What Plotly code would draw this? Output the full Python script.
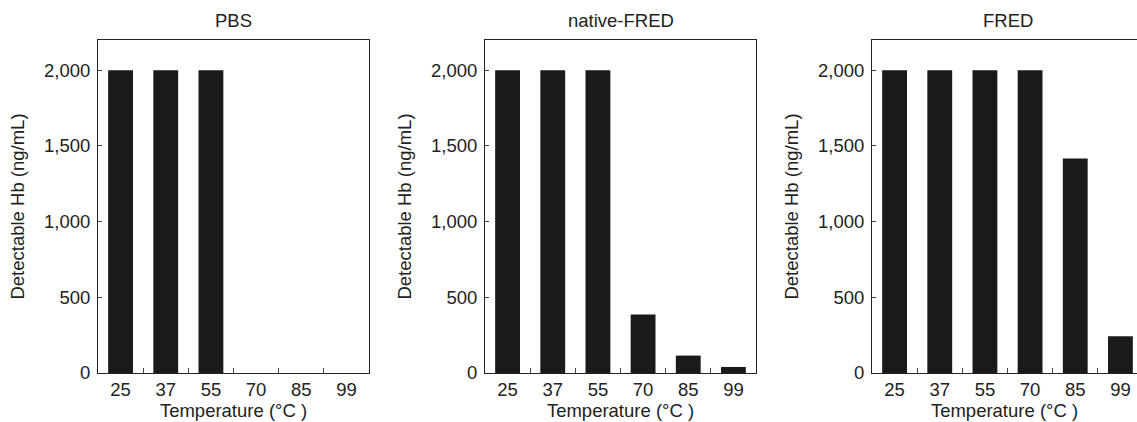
import plotly.graph_objects as go

temperatures = ["25", "37", "55", "70", "85", "99"]
panel_titles = ["PBS", "native-FRED", "FRED"]
pbs_values = [2000, 2000, 2000, 0, 0, 0]
native_fred_values = [2000, 2000, 2000, 386, 115, 40]
fred_values = [2000, 2000, 2000, 2000, 1417, 242]
y_ticks = [0, 500, 1000, 1500, 2000]
y_label = "Detectable Hb (ng/mL)"
x_label = "Temperature (°C )"

W, H = 1137, 422
MT = 40
MB = H - 373
plot_h = H - MT - MB

panels = [
    (pbs_values, 98, 369, 5.5, True),
    (native_fred_values, 485, 756, 5.5, True),
    (fred_values, 872, 1137, 5.367, False),
]

FONT = "Liberation Sans, Arial, sans-serif"
FS = 18.5
TXT = "#222222"
BAR = "#1a1a1a"

fig = go.Figure()
annotations = []
for i, (vals, x0, x1, xmax, mirror_y) in enumerate(panels):
    xa = "x" if i == 0 else f"x{i+1}"
    ya = "y" if i == 0 else f"y{i+1}"
    fig.add_trace(go.Bar(
        x=temperatures, y=vals, xaxis=xa, yaxis=ya,
        width=0.55,
        marker=dict(color=BAR, line=dict(width=0)),
        showlegend=False,
    ))
    xkey = "xaxis" if i == 0 else f"xaxis{i+1}"
    ykey = "yaxis" if i == 0 else f"yaxis{i+1}"
    fig.update_layout({
        xkey: dict(
            domain=[x0 / W, min(x1 / W, 1)], anchor=ya,
            type="category", range=[-0.5, xmax],
            showline=True, linecolor="#222", linewidth=1, mirror=True,
            ticks="inside", ticklen=5, tickwidth=1, tickcolor="#444",
            tickson="boundaries",
            showgrid=False, zeroline=False,
            tickfont=dict(family=FONT, size=FS, color=TXT),
            title=dict(text=x_label, font=dict(family=FONT, size=FS, color=TXT), standoff=2),
        ),
        ykey: dict(
            domain=[0, 1], anchor=xa,
            range=[0, 2200],
            tickmode="array", tickvals=y_ticks,
            tickformat=",d",
            showline=True, linecolor="#222", linewidth=1, mirror=mirror_y,
            ticks="inside", ticklen=4, tickwidth=1, tickcolor="#444",
            ticklabelstandoff=3,
            showgrid=False, zeroline=False,
            tickfont=dict(family=FONT, size=FS, color=TXT),
            title=dict(text=y_label, font=dict(family=FONT, size=FS, color=TXT), standoff=14),
        ),
    })
    cx = (x0 + 271 / 2) / W
    annotations.append(dict(
        text=panel_titles[i], xref="paper", yref="paper",
        x=cx, y=(H - MB - 20) / plot_h, xanchor="center", yanchor="middle",
        showarrow=False, font=dict(family=FONT, size=FS, color=TXT),
    ))

fig.update_layout(
    width=W, height=H,
    margin=dict(l=0, r=0, t=MT, b=MB, autoexpand=False),
    paper_bgcolor="white", plot_bgcolor="white",
    annotations=annotations,
)

fig.write_html(
    "out.html",
    config={"displayModeBar": False},
    post_script="document.body.style.margin='0';document.body.style.overflow='hidden';",
)
